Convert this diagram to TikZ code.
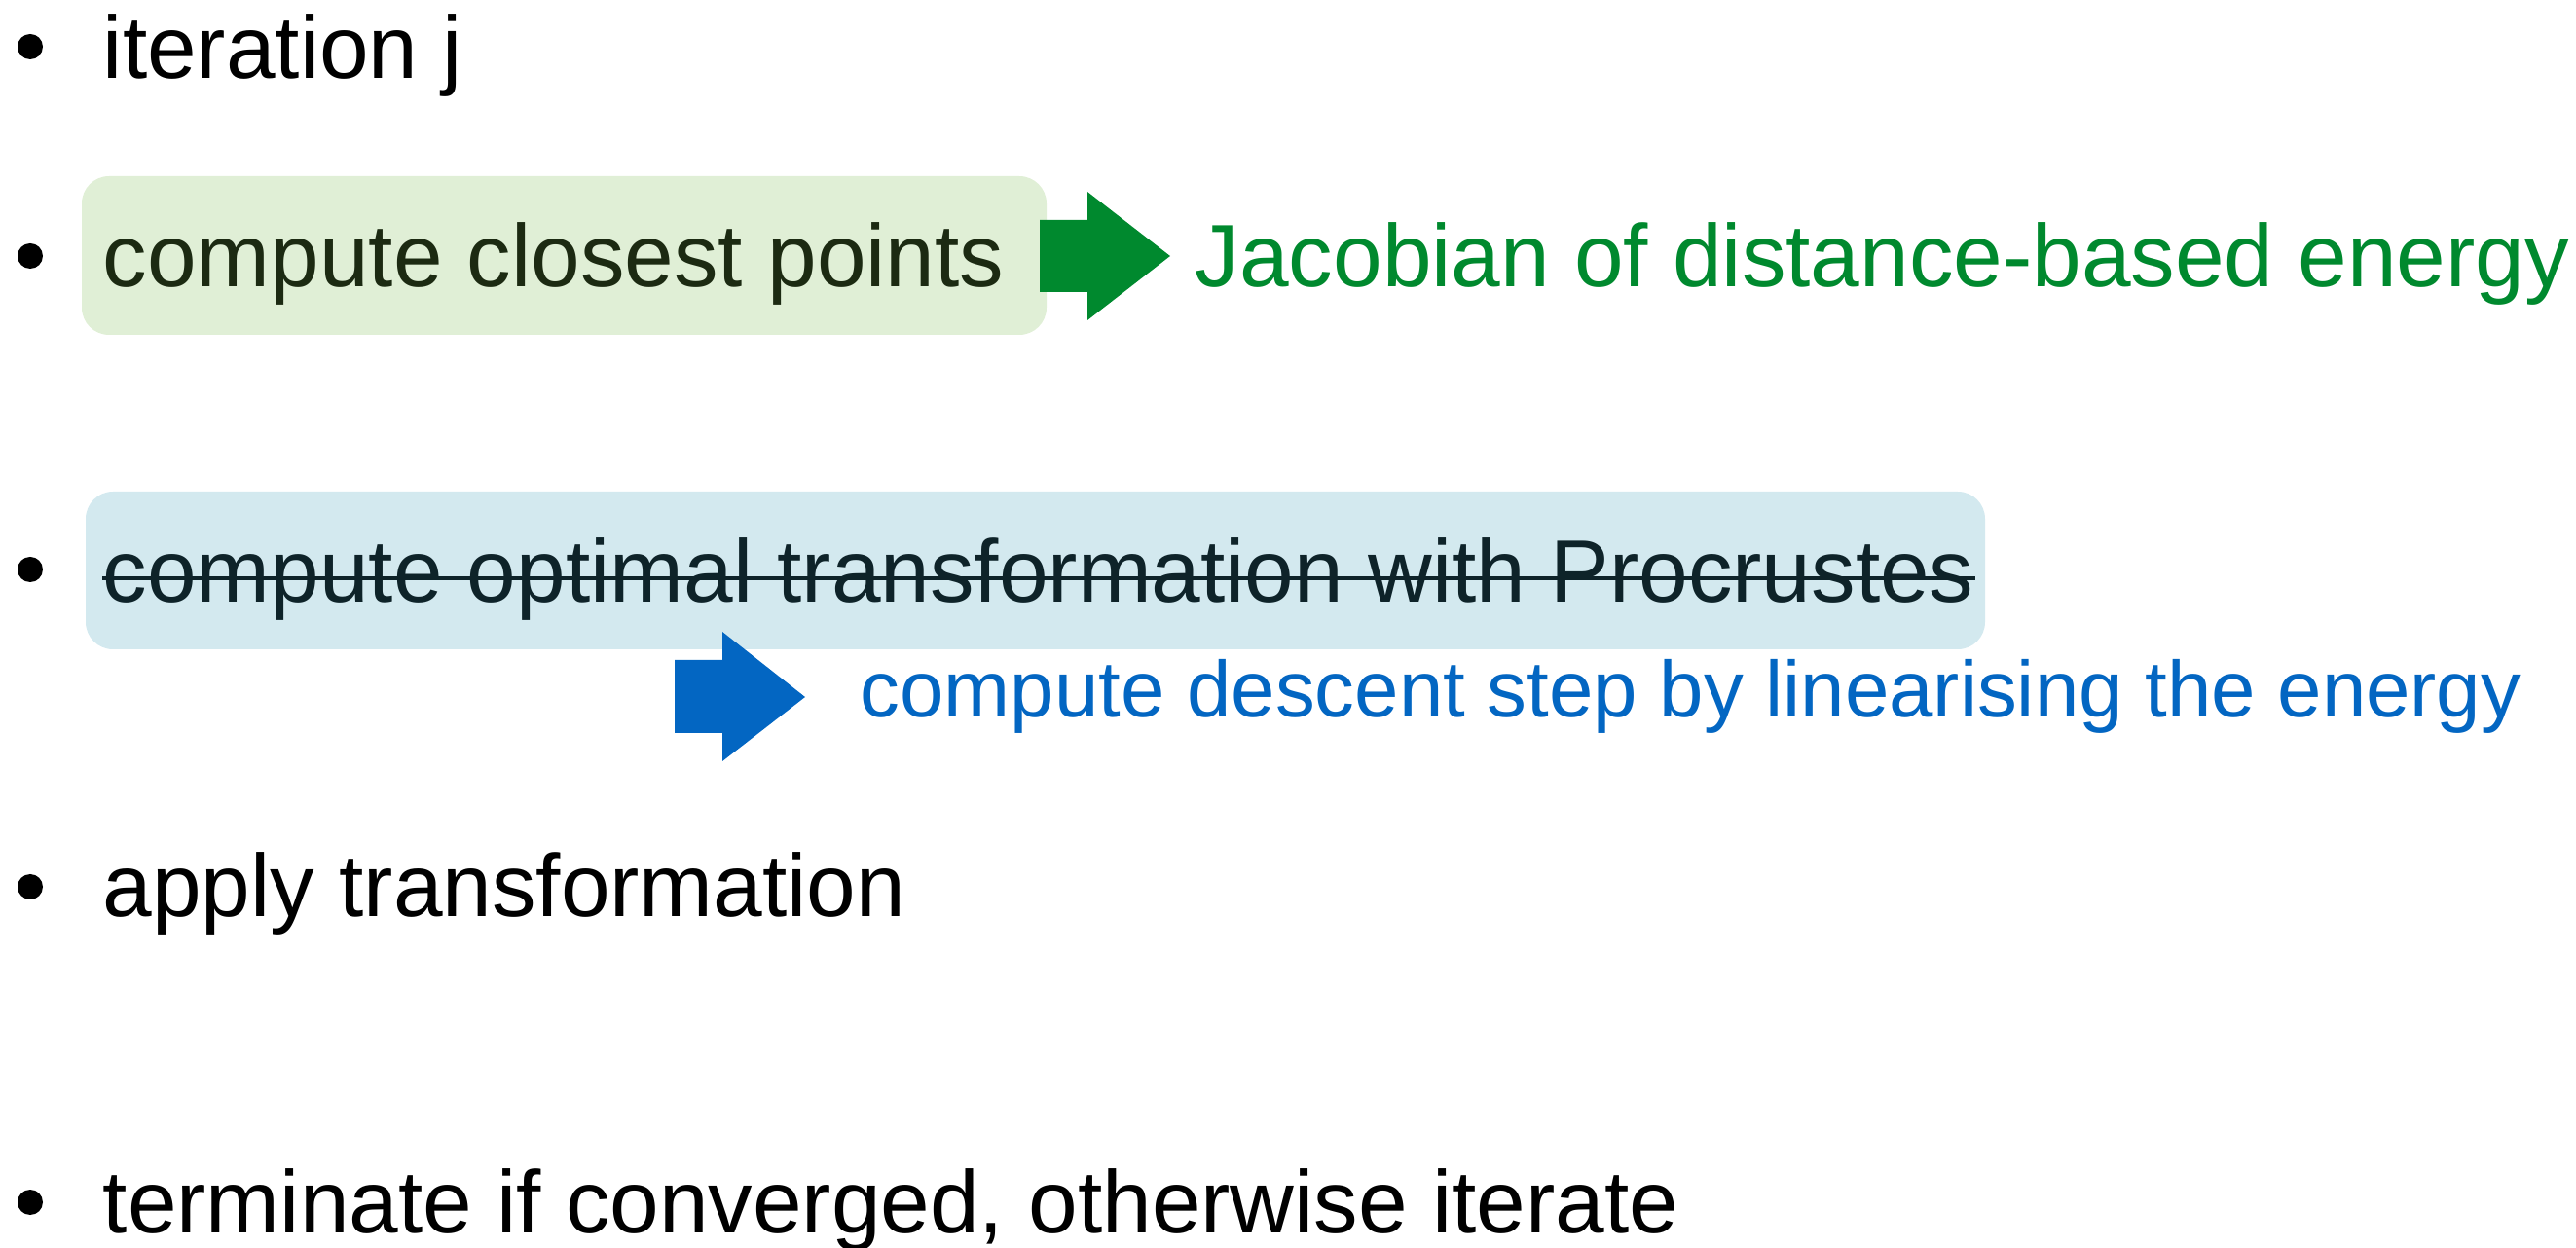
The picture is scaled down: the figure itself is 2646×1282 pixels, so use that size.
\documentclass[tikz,border=0pt]{standalone}
\usepackage{fontspec}
\setmainfont{Liberation Sans}
\definecolor{gboxfill}{HTML}{E0EFD6}
\definecolor{bboxfill}{HTML}{D3E9EF}
\definecolor{garrow}{HTML}{00892E}
\definecolor{barrow}{HTML}{0366C2}
\definecolor{gtext}{HTML}{1C2A12}
\definecolor{btext}{HTML}{0E2329}
\tikzset{
  item/.style={anchor=base west, inner sep=0pt, font=\fontsize{22.75pt}{27pt}\selectfont},
  bul/.style={circle, fill=black, inner sep=0pt, minimum size=6.5pt},
  hbox/.style={rounded corners=7pt},
}
\begin{document}
\begin{tikzpicture}[x=0.25pt, y=-0.25pt]
\useasboundingbox (0,0) rectangle (2646,1282);
% highlight boxes
\fill[gboxfill, hbox] (84,181) rectangle (1075,344);
\fill[bboxfill, hbox] (88,505) rectangle (2039,667);
% bullets
\node[bul] (b1) at (31,48) {};
\node[bul] (b2) at (31,263) {};
\node[bul] (b3) at (31,585) {};
\node[bul] (b4) at (31,911) {};
\node[bul] (b5) at (31,1235) {};
% items
\node[item] (t1) at (105,81) {iteration j};
\node[item, text=gtext] (t2) at (105,295) {compute closest points};
\node[item, text=btext] (t3) at (105,619) {compute optimal transformation with Procrustes};
\draw[btext, line width=1.1pt] ([yshift=6.25pt]t3.base west) -- ([yshift=6.25pt]t3.base east);
\node[item] (t4) at (105,942) {apply transformation};
\node[item] (t5) at (105,1266) {terminate if converged, otherwise iterate};
% green arrow
\coordinate (ga) at (1068,263);
\fill[garrow] (ga) ++(0,-37) -- ++(49,0) -- ++(0,-29) -- (1202,263) -- (1117,329) -- ++(0,-29) -- ++(-49,0) -- cycle;
\node[item, text=garrow] (g) at (1227,295) {Jacobian of distance-based energy};
% blue arrow
\coordinate (ba) at (693,716);
\fill[barrow] (ba) ++(0,-38) -- ++(49,0) -- ++(0,-29) -- (827,716) -- (742,782) -- ++(0,-29) -- ++(-49,0) -- cycle;
\node[item, text=barrow, font=\fontsize{20.4pt}{24pt}\selectfont] (bt) at (883,737) {compute descent step by linearising the energy};
\end{tikzpicture}
\end{document}
